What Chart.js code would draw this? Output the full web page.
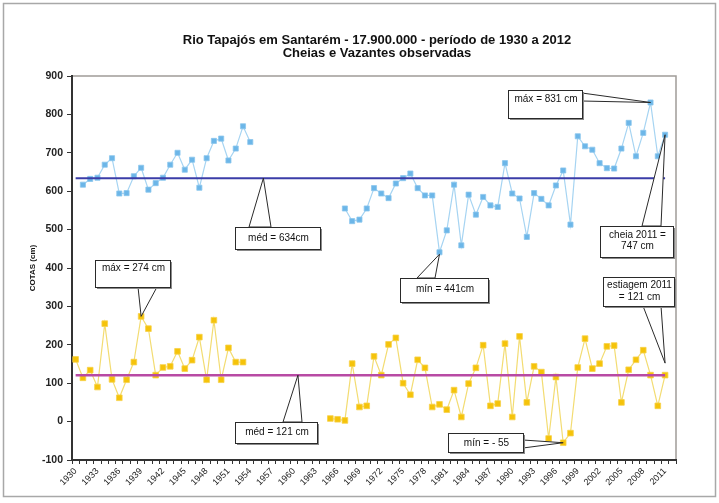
<!DOCTYPE html>
<html>
<head>
<meta charset="utf-8">
<script src="https://cdn.jsdelivr.net/npm/chart.js@4/dist/chart.umd.min.js"></script>
<style>
  html, body { margin: 0; padding: 0; background: #ffffff; }
  #wrap { position: relative; width: 719px; height: 503px; }
  canvas { display: block; }
</style>
</head>
<body>
<div id="wrap"><canvas id="c" width="719" height="503"></canvas></div>
<script>
// Years on the category axis (1930 – 2012)
const years = [
  1930,1931,1932,1933,1934,1935,1936,1937,1938,1939,
  1940,1941,1942,1943,1944,1945,1946,1947,1948,1949,
  1950,1951,1952,1953,1954,1955,1956,1957,1958,1959,
  1960,1961,1962,1963,1964,1965,1966,1967,1968,1969,
  1970,1971,1972,1973,1974,1975,1976,1977,1978,1979,
  1980,1981,1982,1983,1984,1985,1986,1987,1988,1989,
  1990,1991,1992,1993,1994,1995,1996,1997,1998,1999,
  2000,2001,2002,2003,2004,2005,2006,2007,2008,2009,
  2010,2011,2012
];

// Annual flood peaks (cheias), cm
const cheias = [
  null,617,632,635,669,686,594,595,639,661,
  604,621,635,669,700,656,682,609,686,731,
  737,680,711,769,728,null,null,null,null,null,
  null,null,null,null,null,null,null,555,522,526,
  555,608,594,582,620,634,646,608,589,589,
  441,498,617,459,591,539,585,563,559,673,
  594,581,481,595,580,563,615,654,513,743,
  717,708,673,660,659,711,778,691,752,831,
  691,747,null
];

// Annual low-water marks (vazantes), cm
const vazantes = [
  162,114,134,90,255,110,62,109,155,274,
  242,121,141,144,183,138,160,220,109,264,
  109,192,155,155,null,null,null,null,null,null,
  null,null,null,null,null,8,6,3,151,38,
  41,170,121,201,218,100,70,161,140,38,
  45,31,82,12,99,140,199,41,47,203,
  12,222,50,144,129,-44,116,-55,-30,141,
  216,138,151,196,198,50,135,161,186,121,
  41,121,null
];

// Long-term means, cm
const mediaCheias = 634;
const mediaVazantes = 121;

// Vertical axis range and step
const yMin = -100;
const yMax = 900;
const yStep = 100;

const FONT = "'Liberation Sans', Arial, sans-serif";

// the means are drawn over every observed year
const lastObserved = years[cheias.reduce((a, v, i) => (v !== null ? i : a), 0)];
const meanLine = m => years.map(y => (y <= lastObserved ? m : null));

const valueAt = (arr, year) => arr[years.indexOf(year)];

// callout boxes: text, anchor in data terms, box and wedge base in pixels
const callouts = [
  { lines: ['máx = 831 cm'], anchor: { index: years.indexOf(2009), value: valueAt(cheias, 2009) }, dy: 0,
    box: [508, 90, 74, 28], textY: [99], legs: [[582, 93], [582, 101]] },
  { lines: ['cheia 2011 =', '747 cm'], anchor: { index: years.indexOf(2011), value: valueAt(cheias, 2011) }, dy: 0,
    box: [600, 226, 73, 31], textY: [235, 246], legs: [[642, 226], [661, 226]] },
  { lines: ['méd = 634cm'], anchor: { index: 25.8, value: mediaCheias }, dy: 0,
    box: [235, 227, 85, 22], textY: [238], legs: [[249, 227], [271, 227]] },
  { lines: ['mín = 441cm'], anchor: { index: years.indexOf(1980), value: valueAt(cheias, 1980) }, dy: 2,
    box: [400, 278, 88, 24], textY: [289], legs: [[417, 278], [435, 278]] },
  { lines: ['máx = 274 cm'], anchor: { index: years.indexOf(1939), value: valueAt(vazantes, 1939) }, dy: 0,
    box: [95, 260, 75, 27], textY: [268.5], legs: [[138, 287], [157, 287]] },
  { lines: ['méd = 121 cm'], anchor: { index: 30.55, value: mediaVazantes }, dy: 0,
    box: [235, 422, 82, 21], textY: [432.5], legs: [[283, 422], [302, 422]] },
  { lines: ['mín = - 55'], anchor: { index: years.indexOf(1997), value: valueAt(vazantes, 1997) }, dy: 0,
    box: [448, 433, 75, 19], textY: [443], legs: [[523, 440], [523, 448]] },
  { lines: ['estiagem 2011', '= 121 cm'], anchor: { index: years.indexOf(2011), value: valueAt(vazantes, 2011) }, dy: -12,
    box: [603, 277, 71, 29], textY: [285.5, 297], legs: [[643, 306], [661, 306]] }
];

const decorations = {
  id: 'decorations',
  beforeDraw(chart) {
    const { ctx, chartArea: a } = chart;
    ctx.save();
    // outer frame
    ctx.strokeStyle = '#a8a8a8';
    ctx.lineWidth = 1.5;
    ctx.strokeRect(3.5, 3.5, 712, 493);
    // plot-area frame (top and right edges)
    ctx.strokeStyle = '#a09c98';
    ctx.lineWidth = 1.5;
    ctx.beginPath();
    ctx.moveTo(a.left, a.top);
    ctx.lineTo(a.right, a.top);
    ctx.lineTo(a.right, a.bottom);
    ctx.stroke();
    // title
    ctx.fillStyle = '#111';
    ctx.textAlign = 'center';
    ctx.textBaseline = 'middle';
    ctx.font = 'bold 13px ' + FONT;
    ctx.fillText('Rio Tapajós em Santarém - 17.900.000 - período de 1930 a 2012', 377, 40);
    ctx.fillText('Cheias e Vazantes observadas', 377, 53);
    ctx.restore();
  },
  afterDatasetsDraw(chart) {
    const { ctx } = chart;
    const xs = chart.scales.x, ys = chart.scales.y;
    ctx.save();
    ctx.font = '10px ' + FONT;
    ctx.textAlign = 'center';
    ctx.textBaseline = 'middle';
    callouts.forEach(c => {
      const px = xs.getPixelForValue(c.anchor.index);
      const py = ys.getPixelForValue(c.anchor.value) + c.dy;
      const [bx, by, bw, bh] = c.box;
      // wedge
      ctx.beginPath();
      ctx.moveTo(c.legs[0][0], c.legs[0][1]);
      ctx.lineTo(px, py);
      ctx.lineTo(c.legs[1][0], c.legs[1][1]);
      ctx.closePath();
      ctx.fillStyle = '#ffffff';
      ctx.fill();
      ctx.strokeStyle = '#2a2a2a';
      ctx.lineWidth = 1;
      ctx.stroke();
      // shadow + box
      ctx.fillStyle = '#8a8a8a';
      ctx.fillRect(bx + 2, by + 2, bw, bh);
      ctx.fillStyle = '#ffffff';
      ctx.fillRect(bx, by, bw, bh);
      ctx.strokeStyle = '#2a2a2a';
      ctx.strokeRect(bx + 0.5, by + 0.5, bw, bh);
      ctx.fillStyle = '#111';
      c.lines.forEach((t, k) => ctx.fillText(t, bx + bw / 2 + 1, c.textY[k]));
    });
    ctx.restore();
  }
};

new Chart(document.getElementById('c'), {
  type: 'line',
  data: {
    labels: years,
    datasets: [
      { label: 'média cheias', data: meanLine(mediaCheias), borderColor: '#3b3da8', borderWidth: 2,
        pointRadius: 0, fill: false, tension: 0 },
      { label: 'média vazantes', data: meanLine(mediaVazantes), borderColor: '#b84aa4', borderWidth: 2.5,
        pointRadius: 0, fill: false, tension: 0 },
      { label: 'cheias', data: cheias, borderColor: '#a6d4f2', borderWidth: 1.2,
        pointStyle: 'rect', pointRadius: 3.6, pointBackgroundColor: '#6cb6e8', pointBorderColor: '#8cc6ee',
        pointBorderWidth: 0.8, spanGaps: false, tension: 0 },
      { label: 'vazantes', data: vazantes, borderColor: '#f3dc72', borderWidth: 1.2,
        pointStyle: 'rect', pointRadius: 4, pointBackgroundColor: '#f5c30a', pointBorderColor: '#f8d24a',
        pointBorderWidth: 0.8, spanGaps: false, tension: 0 }
    ]
  },
  options: {
    responsive: false,
    animation: false,
    layout: { padding: { top: 76, right: 43, bottom: 0, left: 0 } },
    plugins: { legend: { display: false }, tooltip: { enabled: false }, title: { display: false } },
    scales: {
      x: {
        type: 'category',
        offset: true,
        grid: { display: true, drawOnChartArea: false, drawTicks: true, tickLength: 4, color: '#333', offset: true },
        border: { display: true, color: '#333', width: 2 },
        ticks: {
          autoSkip: false, maxRotation: 45, minRotation: 45, padding: 2, color: '#222',
          font: { family: FONT, size: 9 },
          callback: (v, i) => (i % 3 === 0 ? String(years[i]) : '')
        },
        afterFit: s => { s.height = 43; }
      },
      y: {
        min: yMin, max: yMax,
        grid: { display: true, drawOnChartArea: false, drawTicks: true, tickLength: 5, color: '#333' },
        border: { display: true, color: '#333', width: 2 },
        ticks: { stepSize: yStep, padding: 4, color: '#222', font: { family: FONT, size: 10.5, weight: 'bold' } },
        title: { display: true, text: 'COTAS (cm)', color: '#111', font: { family: FONT, size: 8, weight: 'bold' },
                 padding: { top: 28, bottom: 0 } },
        afterFit: s => { s.width = 72; }
      }
    }
  },
  plugins: [decorations]
});
</script>
</body>
</html>
